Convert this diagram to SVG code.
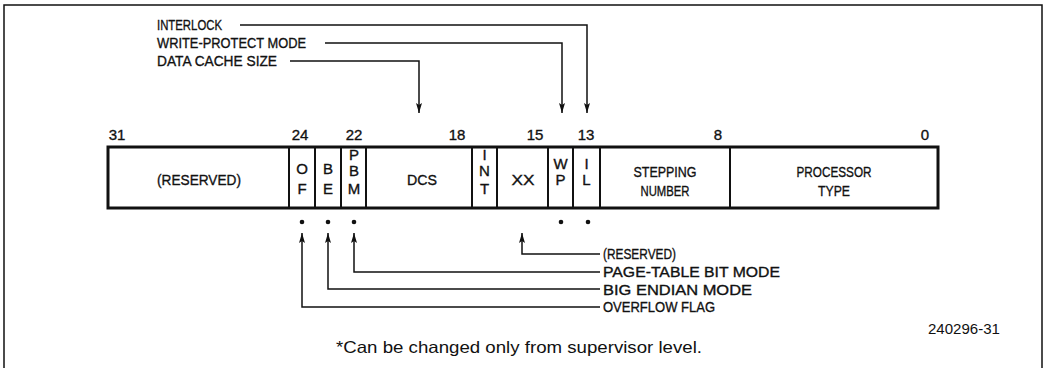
<svg xmlns="http://www.w3.org/2000/svg" width="1043" height="368" viewBox="0 0 1043 368">
<style>
.t{font-family:"Liberation Sans",Arial,sans-serif;font-size:15px;fill:#111;stroke:#111;stroke-width:0.35;}
.c{text-anchor:middle;}
.ln{fill:none;stroke:#111;stroke-width:1.5;}
.box{fill:#fff;stroke:#111;stroke-width:3;}
.dv{stroke:#111;stroke-width:2;}
.foot{font-family:"Liberation Sans",Arial,sans-serif;font-size:16.5px;fill:#111;}
</style>
<defs>
<marker id="ah" viewBox="0 0 10 6" refX="10" refY="3" markerWidth="10" markerHeight="6" markerUnits="userSpaceOnUse" orient="auto">
<path d="M0,0 L10,3 L0,6 L2,3 Z" fill="#111"/>
</marker>
</defs>
<rect width="1043" height="368" fill="#fff"/>
<g id="frame">
<path d="M4,368 V5 H1042 V368" fill="none" stroke="#111" stroke-width="1.5"/>
</g>
<g id="register">
<rect class="box" x="108" y="147" width="830" height="61"/>
<line class="dv" x1="289" y1="147" x2="289" y2="208"/>
<line class="dv" x1="315" y1="147" x2="315" y2="208"/>
<line class="dv" x1="341" y1="147" x2="341" y2="208"/>
<line class="dv" x1="366" y1="147" x2="366" y2="208"/>
<line class="dv" x1="472" y1="147" x2="472" y2="208"/>
<line class="dv" x1="497" y1="147" x2="497" y2="208"/>
<line class="dv" x1="548" y1="147" x2="548" y2="208"/>
<line class="dv" x1="573" y1="147" x2="573" y2="208"/>
<line class="dv" x1="600" y1="147" x2="600" y2="208"/>
<line class="dv" x1="730" y1="147" x2="730" y2="208"/>
</g>
<g id="bit-numbers">
<text class="t c" x="117" y="140">31</text>
<text class="t c" x="300" y="140">24</text>
<text class="t c" x="354" y="140">22</text>
<text class="t c" x="457" y="140">18</text>
<text class="t c" x="535" y="140">15</text>
<text class="t c" x="586" y="140">13</text>
<text class="t c" x="718" y="140">8</text>
<text class="t c" x="925" y="140">0</text>
</g>
<g id="field-reserved"><text class="t c" x="199" y="185" textLength="84" lengthAdjust="spacingAndGlyphs">(RESERVED)</text></g>
<g id="field-of"><text class="t c" x="302" y="174">O</text><text class="t c" x="302" y="194">F</text></g>
<g id="field-be"><text class="t c" x="328" y="174">B</text><text class="t c" x="328" y="194">E</text></g>
<g id="field-pbm"><text class="t c" x="354" y="160">P</text><text class="t c" x="354" y="176">B</text><text class="t c" x="354" y="194">M</text></g>
<g id="field-dcs"><text class="t c" x="422" y="185" textLength="30" lengthAdjust="spacingAndGlyphs">DCS</text></g>
<g id="field-int"><text class="t c" x="484.5" y="160">I</text><text class="t c" x="484.5" y="176">N</text><text class="t c" x="484.5" y="194">T</text></g>
<g id="field-xx"><text class="t c" x="523" y="185" textLength="23" lengthAdjust="spacingAndGlyphs">XX</text></g>
<g id="field-wp"><text class="t c" x="560.5" y="169">W</text><text class="t c" x="560.5" y="185">P</text></g>
<g id="field-il"><text class="t c" x="586.5" y="169">I</text><text class="t c" x="586.5" y="185">L</text></g>
<g id="field-stepping"><text class="t c" x="665" y="177" textLength="63" lengthAdjust="spacingAndGlyphs">STEPPING</text><text class="t c" x="665" y="196" textLength="49" lengthAdjust="spacingAndGlyphs">NUMBER</text></g>
<g id="field-processor"><text class="t c" x="834" y="177" textLength="75" lengthAdjust="spacingAndGlyphs">PROCESSOR</text><text class="t c" x="834" y="196" textLength="32" lengthAdjust="spacingAndGlyphs">TYPE</text></g>
<g id="dots">
<circle cx="302" cy="222" r="2.3" fill="#111"/>
<circle cx="328" cy="222" r="2.3" fill="#111"/>
<circle cx="354" cy="222" r="2.3" fill="#111"/>
<circle cx="561" cy="222" r="2.3" fill="#111"/>
<circle cx="588" cy="222" r="2.3" fill="#111"/>
</g>
<g id="top-labels">
<text class="t" x="157" y="30" textLength="65" lengthAdjust="spacingAndGlyphs">INTERLOCK</text>
<text class="t" x="157" y="48" textLength="149" lengthAdjust="spacingAndGlyphs">WRITE-PROTECT MODE</text>
<text class="t" x="157" y="66" textLength="120" lengthAdjust="spacingAndGlyphs">DATA CACHE SIZE</text>
</g>
<g id="bottom-labels">
<text class="t" x="603" y="259" textLength="73" lengthAdjust="spacingAndGlyphs">(RESERVED)</text>
<text class="t" x="603" y="277" textLength="177" lengthAdjust="spacingAndGlyphs">PAGE-TABLE BIT MODE</text>
<text class="t" x="603" y="295" textLength="149" lengthAdjust="spacingAndGlyphs">BIG ENDIAN MODE</text>
<text class="t" x="603" y="312" textLength="112" lengthAdjust="spacingAndGlyphs">OVERFLOW FLAG</text>
</g>
<g id="connectors">
<path class="ln" d="M240,25 H587 V113" marker-end="url(#ah)"/>
<path class="ln" d="M325,43 H562 V113" marker-end="url(#ah)"/>
<path class="ln" d="M290,61 H419 V113" marker-end="url(#ah)"/>
<path class="ln" d="M600,254 H522 V233" marker-end="url(#ah)"/>
<path class="ln" d="M600,272 H354 V233" marker-end="url(#ah)"/>
<path class="ln" d="M600,289 H328 V233" marker-end="url(#ah)"/>
<path class="ln" d="M600,307 H302 V233" marker-end="url(#ah)"/>
</g>
<g id="notes">
<text class="foot" x="928" y="334" textLength="72" lengthAdjust="spacingAndGlyphs" style="font-size:14px">240296-31</text>
<text class="foot" x="336" y="353" textLength="366" lengthAdjust="spacingAndGlyphs">*Can be changed only from supervisor level.</text>
</g>
</svg>
